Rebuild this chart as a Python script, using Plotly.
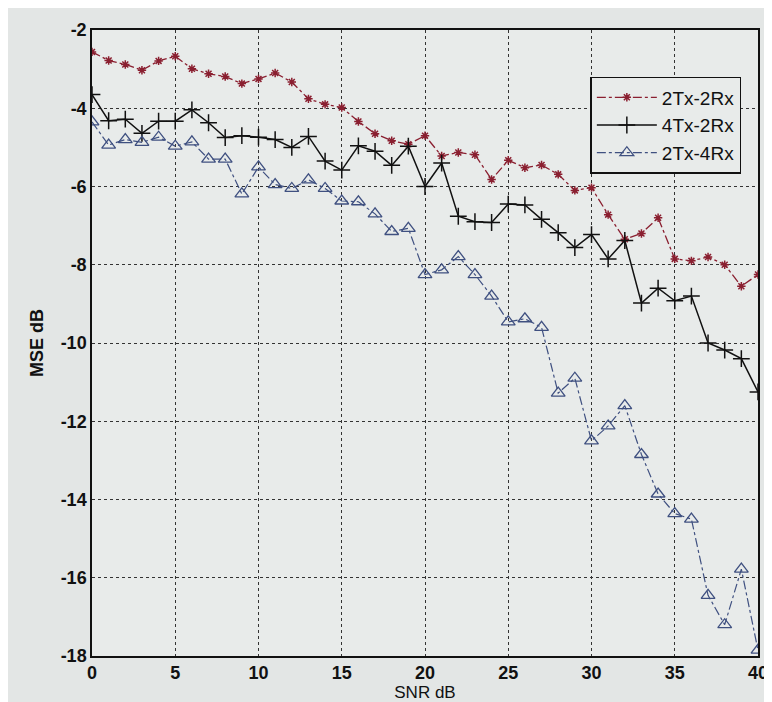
import plotly.graph_objects as go

snr = list(range(0, 41))

mse_2tx2rx = [-2.56, -2.78, -2.88, -3.03, -2.79, -2.67, -2.99, -3.12, -3.19, -3.37,
              -3.25, -3.1, -3.33, -3.76, -3.9, -3.98, -4.34, -4.65, -4.83, -4.92,
              -4.7, -5.22, -5.13, -5.19, -5.82, -5.33, -5.52, -5.45, -5.69, -6.1,
              -6.03, -6.72, -7.35, -7.2, -6.8, -7.85, -7.9, -7.8, -8.0, -8.55, -8.25]

mse_4tx2rx = [-3.65, -4.32, -4.28, -4.64, -4.33, -4.33, -4.04, -4.37, -4.75, -4.7,
              -4.74, -4.8, -5.0, -4.72, -5.35, -5.58, -4.96, -5.1, -5.46, -4.97,
              -6.0, -5.4, -6.76, -6.9, -6.92, -6.45, -6.47, -6.84, -7.18, -7.56,
              -7.23, -7.85, -7.38, -8.98, -8.6, -8.92, -8.8, -10.0, -10.18, -10.4, -11.25]

mse_2tx4rx = [-4.35, -4.94, -4.8, -4.87, -4.74, -4.97, -4.86, -5.3, -5.3, -6.19,
              -5.5, -5.95, -6.05, -5.83, -6.05, -6.37, -6.39, -6.7, -7.15, -7.07,
              -8.25, -8.13, -7.79, -8.25, -8.8, -9.46, -9.38, -9.6, -11.28, -10.9,
              -12.5, -12.12, -11.6, -12.85, -13.86, -14.36, -14.5, -16.45, -17.2, -15.78, -17.85]

x_ticks = [0, 5, 10, 15, 20, 25, 30, 35, 40]
y_ticks = [-18, -16, -14, -12, -10, -8, -6, -4, -2]

FONT = "Liberation Sans, Arial"

fig = go.Figure()
fig.add_trace(go.Scatter(
    x=snr, y=mse_2tx2rx, name="2Tx-2Rx", mode="lines+markers",
    line=dict(color="#8a1f30", width=1.3, dash="dashdot"),
    marker=dict(symbol="asterisk-open", size=7, color="#8a1f30",
                line=dict(color="#8a1f30", width=1.5)),
))
fig.add_trace(go.Scatter(
    x=snr, y=mse_4tx2rx, name="4Tx-2Rx", mode="lines+markers",
    line=dict(color="#111111", width=1.5),
    marker=dict(symbol="cross-thin-open", size=12, color="#111111",
                line=dict(color="#111111", width=1.5)),
))
fig.add_trace(go.Scatter(
    x=snr, y=mse_2tx4rx, name="2Tx-4Rx", mode="lines+markers",
    line=dict(color="#3f5080", width=1.2, dash="dashdot"),
    marker=dict(symbol="triangle-up-open", size=12, color="#3f5080",
                line=dict(color="#3f5080", width=1.3)),
))

axis_common = dict(
    showline=True, linecolor="#111111", linewidth=1.5, mirror=True,
    showgrid=True, gridcolor="#333333", griddash="dot", gridwidth=1,
    zeroline=False, ticks="",
    tickfont=dict(family=FONT, size=18, color="#111111"),
)

fig.update_layout(
    width=772, height=702,
    margin=dict(l=84, r=12, t=18, b=54),
    paper_bgcolor="#e3e6e5", plot_bgcolor="#e8ebea",
    font=dict(family=FONT, color="#111111"),
    xaxis=dict(range=[0, 40], tickvals=x_ticks,
               ticktext=[f"<b>{v}</b>" for v in x_ticks],
               title=dict(text="SNR dB", font=dict(family=FONT, size=17), standoff=2), **axis_common),
    yaxis=dict(range=[-18, -2], tickvals=y_ticks,
               ticktext=[f"<b>{v}</b>" for v in y_ticks],
               title=dict(text="<b>MSE dB</b>", font=dict(family=FONT, size=18), standoff=12), **axis_common),
    legend=dict(x=0.975, y=0.925, xanchor="right", yanchor="top",
                bgcolor="#e8ebea", bordercolor="#111111", borderwidth=1.5,
                font=dict(size=19, family=FONT),
                itemwidth=60),
    showlegend=True,
)

fig.write_html("out.html")
